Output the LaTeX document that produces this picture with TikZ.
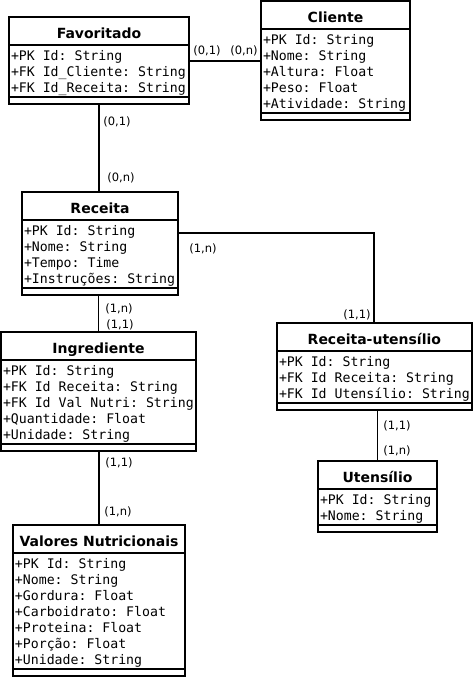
\documentclass[tikz,border=0pt]{standalone}
\usepackage{fontspec}
\setmainfont{DejaVu Sans}
\setmonofont{DejaVu Sans Mono}
\usetikzlibrary{shapes.multipart}

\newcommand{\ename}[1]{{\normalfont\bfseries\fontsize{14}{16}\selectfont\rule[-5pt]{0pt}{24pt}#1}}
\newcommand{\attrs}[1]{\begin{tabular}{@{}l@{}}#1\end{tabular}\nodepart{three}\rule{0pt}{3pt}}
\newcommand{\attr}[1]{\rule[-3pt]{0pt}{16pt}#1}

\tikzset{
    entity/.style={rectangle split, rectangle split parts=3, draw, line width=1.8pt,
        inner xsep=2pt, inner ysep=1.1pt, outer sep=0pt, anchor=north west,
        rectangle split part align={center,left,left},
        font=\ttfamily\fontsize{13.2}{10}\selectfont},
    card/.style={font=\fontsize{11.5}{13}\selectfont, inner sep=0pt},
    link/.style={line width=1.8pt}
}

\begin{document}
\begin{tikzpicture}[x=1pt,y=-1pt]
    \useasboundingbox (0,0) rectangle (472,678);

    \node[entity, minimum width=180pt] (fav) at (9,17)
        {\ename{Favoritado}
         \nodepart{two}\attrs{\attr{+PK Id: String}\\\attr{+FK Id\_Cliente: String}\\\attr{+FK Id\_Receita: String}}};
    \node[entity, minimum width=149pt] (cli) at (261,1)
        {\ename{Cliente}
         \nodepart{two}\attrs{\attr{+PK Id: String}\\\attr{+Nome: String}\\\attr{+Altura: Float}\\\attr{+Peso: Float}\\\attr{+Atividade: String}}};
    \node[entity, minimum width=156pt] (rec) at (22,192)
        {\ename{Receita}
         \nodepart{two}\attrs{\attr{+PK Id: String}\\\attr{+Nome: String}\\\attr{+Tempo: Time}\\\attr{+Instruções: String}}};
    \node[entity, minimum width=195pt] (ing) at (1,332)
        {\ename{Ingrediente}
         \nodepart{two}\attrs{\attr{+PK Id: String}\\\attr{+FK Id Receita: String}\\\attr{+FK Id Val Nutri: String}\\\attr{+Quantidade: Float}\\\attr{+Unidade: String}}};
    \node[entity, minimum width=172pt] (val) at (13,525)
        {\ename{Valores Nutricionais}
         \nodepart{two}\attrs{\attr{+PK Id: String}\\\attr{+Nome: String}\\\attr{+Gordura: Float}\\\attr{+Carboidrato: Float}\\\attr{+Proteina: Float}\\\attr{+Porção: Float}\\\attr{+Unidade: String}}};
    \node[entity, minimum width=194pt] (rut) at (277,323)
        {\ename{Receita-utensílio}
         \nodepart{two}\attrs{\attr{+PK Id: String}\\\attr{+FK Id Receita: String}\\\attr{+FK Id Utensílio: String}}};
    \node[entity, minimum width=119pt] (ute) at (318,461)
        {\ename{Utensílio}
         \nodepart{two}\attrs{\attr{+PK Id: String}\\\attr{+Nome: String}}};

    % relationships
    \coordinate (fc) at ([yshift=10pt]fav.two east);
    \coordinate (rc) at ([yshift=21pt]rec.two east);
    \draw[link] (fc) -- (fc -| cli.west);
    \draw[link] (fav.south) -- (fav.south |- rec.north);
    \draw[link] (rc) -| (rut.north);
    \draw[link] (ing.north |- rec.south) -- (ing.north);
    \draw[link] (val.north |- ing.south) -- (val.north);
    \draw[link] (ute.north |- rut.south) -- (ute.north);

    % cardinalities
    \foreach \lbl/\x/\y [count=\k] in {{(0,1)}/207/51, {(0,n)}/244/51,
        {(0,1)}/117/122, {(0,n)}/121/178, {(1,n)}/203/249, {(1,1)}/357/315,
        {(1,n)}/119/309, {(1,1)}/120/325, {(1,1)}/119/463, {(1,n)}/118/512,
        {(1,1)}/397/426, {(1,n)}/397/451}
        {
        \node[card] (card\k) at (\x,\y) {\lbl};
        }
\end{tikzpicture}
\end{document}
